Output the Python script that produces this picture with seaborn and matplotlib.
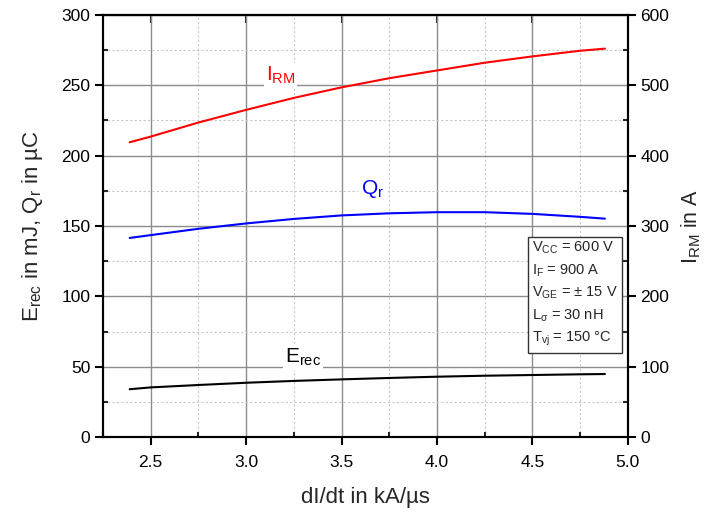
import numpy as np
import pandas as pd
import matplotlib
matplotlib.use("Agg")
import matplotlib.pyplot as plt
from matplotlib.ticker import MultipleLocator
import seaborn as sns

# Reverse recovery characteristics vs. dI/dt
didt = [2.39, 2.5, 2.75, 3.0, 3.25, 3.5, 3.75, 4.0, 4.25, 4.5, 4.75, 4.88]
erec = [34.0, 35.3, 37.0, 38.6, 39.9, 41.0, 42.0, 42.9, 43.6, 44.1, 44.6, 44.8]
qr = [141.5, 143.5, 148.0, 151.8, 155.0, 157.5, 159.0, 159.8, 159.8, 158.6, 156.5, 155.2]
irm = [419, 427, 447, 465, 482, 497, 510, 521, 532, 541, 549, 552]

conditions = [r"V$_{\mathregular{CC}}$ = 600 V",
              r"I$_{\mathregular{F}}$ = 900 A",
              r"V$_{\mathregular{GE}}$ = ± 15 V",
              r"L$_{\mathregular{σ}}$ = 30 nH",
              r"T$_{\mathregular{vj}}$ = 150 °C"]

sns.set_theme(style="white")
plt.rcParams["font.family"] = ["Liberation Sans", "DejaVu Sans"]
plt.rcParams["mathtext.default"] = "regular"
plt.rcParams["axes.linewidth"] = 1.5

df = pd.DataFrame({"didt": didt, "erec": erec, "qr": qr, "irm": irm})

fig = plt.figure(figsize=(7.2, 5.13), dpi=100)
ax = fig.add_axes([0.143, 0.148, 0.729, 0.823])
ax2 = ax.twinx()

sns.lineplot(data=df, x="didt", y="erec", ax=ax, color="black", lw=1.5)
sns.lineplot(data=df, x="didt", y="qr", ax=ax, color="#0000ff", lw=1.5)
sns.lineplot(data=df, x="didt", y="irm", ax=ax2, color="#ff0000", lw=1.5)

ax.set_xlim(2.25, 5.0)
ax.set_ylim(0, 300)
ax2.set_ylim(0, 600)

ax.xaxis.set_major_locator(MultipleLocator(0.5))
ax.xaxis.set_minor_locator(MultipleLocator(0.25))
ax.yaxis.set_major_locator(MultipleLocator(50))
ax.yaxis.set_minor_locator(MultipleLocator(25))
ax2.yaxis.set_major_locator(MultipleLocator(100))
ax2.yaxis.set_minor_locator(MultipleLocator(50))
ax.xaxis.set_major_formatter(matplotlib.ticker.FormatStrFormatter("%.1f"))

ax.grid(True, which="major", color="#8c8c8c", lw=1.0, ls="-")
ax.grid(True, which="minor", color="#c8c8c8", lw=0.8, ls=(0, (2, 2)))
ax.set_axisbelow(True)

for a in (ax, ax2):
    a.tick_params(which="major", direction="out", length=6, width=1.5,
                  labelsize=12.5, colors="black", pad=3)
    a.tick_params(which="minor", direction="in", length=3.5, width=1.5)
    for s in a.spines.values():
        s.set_color("black")
        s.set_linewidth(1.5)
ax.tick_params(axis="y", which="both", left=True, right=False)
ax.tick_params(axis="x", which="both", bottom=True)
ax.tick_params(axis="x", which="major", pad=7)
ax2.tick_params(axis="y", which="both", right=True)

top = ax.secondary_xaxis("top")
top.xaxis.set_major_locator(MultipleLocator(0.5))
top.xaxis.set_minor_locator(matplotlib.ticker.NullLocator())
top.tick_params(which="major", direction="in", length=6, width=1.5, labeltop=False)

ax.set_xlabel("dI/dt in kA/µs", fontsize=16, labelpad=12)
ax.set_ylabel(r"E$_{rec}$ in mJ, Q$_{r}$ in µC", fontsize=16, labelpad=12)
ax2.set_ylabel(r"I$_{RM}$ in A", fontsize=15.5, labelpad=7)

box = dict(facecolor="white", edgecolor="none", pad=1.5)
ax.text(3.18, 257, r"I$_{RM}$", color="#ff0000", fontsize=15, ha="center", va="center", bbox=box)
ax.text(3.66, 176, r"Q$_{r}$", color="#0000ff", fontsize=15, ha="center", va="center", bbox=box)
ax.text(3.3, 57, r"E$_{rec}$", color="black", fontsize=15, ha="center", va="center", bbox=box)

ax.text(0.817, 0.468, "\n".join(conditions), transform=ax.transAxes,
        fontsize=10.5, ha="left", va="top", linespacing=1.52,
        bbox=dict(facecolor="white", edgecolor="#333333", lw=1.0, pad=3))

fig.savefig("out.png", dpi=100)
